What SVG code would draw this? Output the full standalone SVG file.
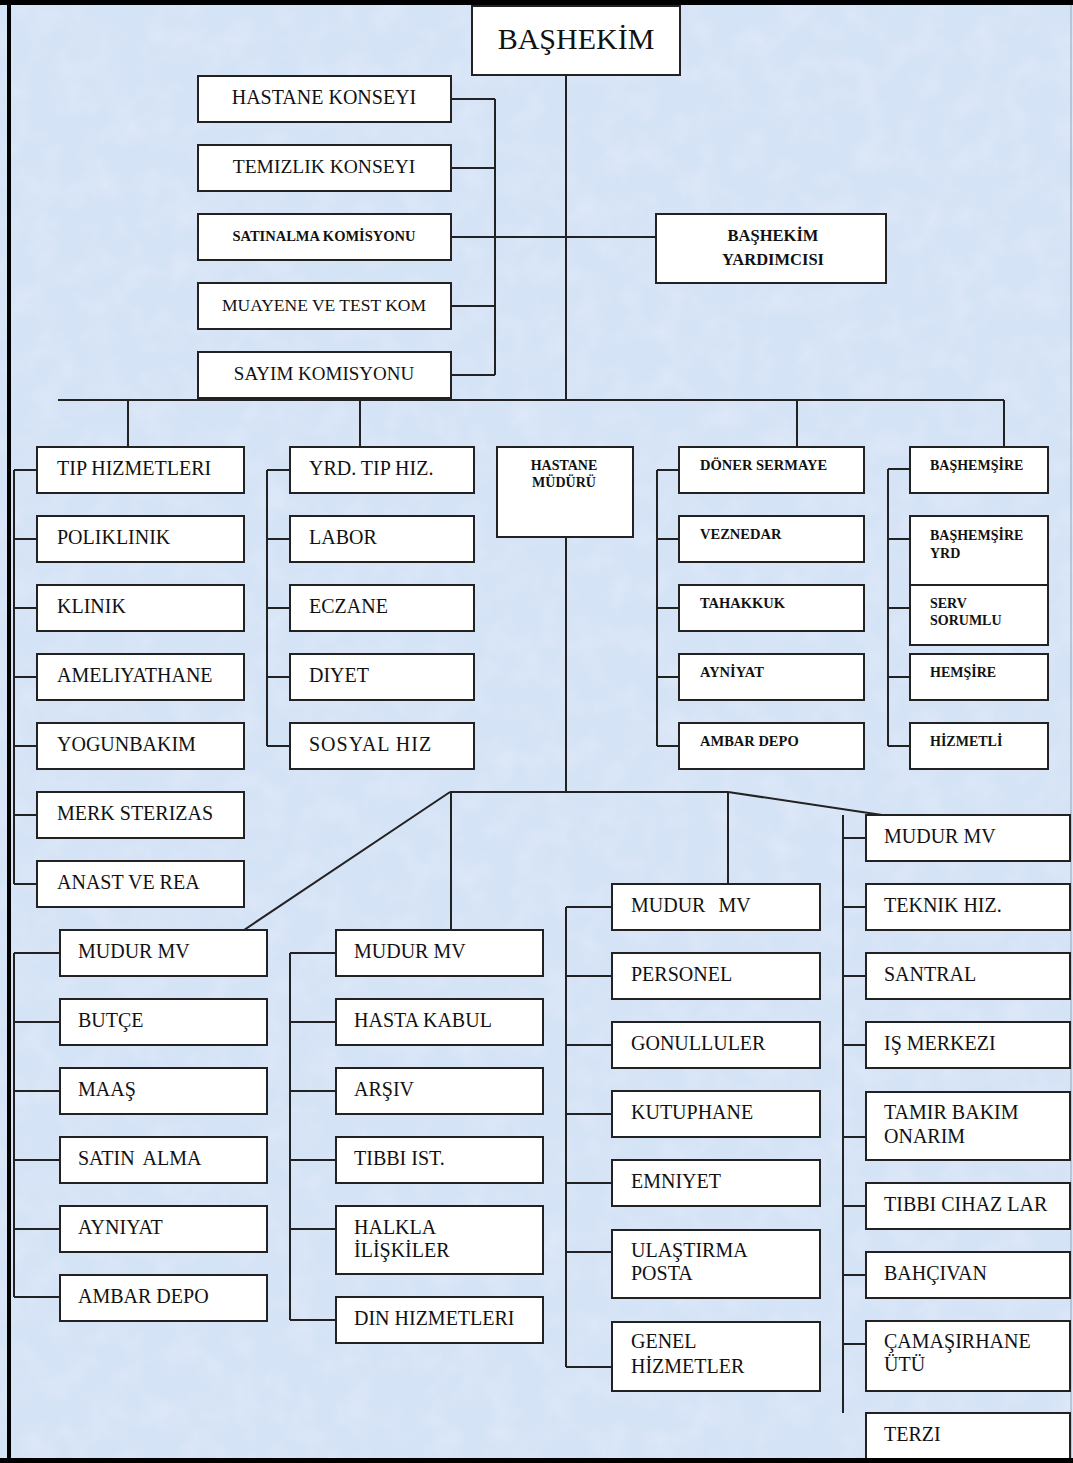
<svg xmlns="http://www.w3.org/2000/svg" width="1073" height="1463" viewBox="0 0 1073 1463">
<defs>
<filter id="tex" x="0" y="0" width="100%" height="100%">
<feTurbulence type="fractalNoise" baseFrequency="0.035" numOctaves="3" seed="7"/>
<feColorMatrix type="matrix" values="0 0 0 0 1  0 0 0 0 1  0 0 0 0 1  0 0 0 1.1 -0.45"/>
</filter>
<style>
.bx{fill:#fff;stroke:#222;stroke-width:2}
.ln{stroke:#222;stroke-width:2;fill:none}
.t{font-family:"Liberation Serif","DejaVu Serif",serif;font-size:20px;fill:#111}
.c{text-anchor:middle}
.s{font-family:"Liberation Serif","DejaVu Serif",serif;font-size:14px;font-weight:bold;fill:#111}
.d{font-size:14.5px}
</style>
</defs>
<rect x="0" y="0" width="1073" height="1463" fill="#d5e3f6"/>
<rect x="0" y="0" width="1073" height="1463" filter="url(#tex)" opacity="0.35"/>
<g id="frame">
<rect x="0" y="0" width="1073" height="5" fill="#000"/>
<rect x="7" y="0" width="4" height="1463" fill="#000"/>
<line x1="1071" y1="5" x2="1071" y2="1458" stroke="#9aa6b8" stroke-width="1"/>
</g>

<g id="connectors" class="ln">
<path d="M566 75V400"/>
<path d="M495 99V375M451 99H495M451 168H495M451 237H656M451 306H495M451 375H495"/>
<path d="M58 400H1004M128 400V447M360 400V447M797 400V447M1004 400V447"/>
<path d="M14 470V884M14 470H37M14 539H37M14 608H37M14 677H37M14 746H37M14 815H37M14 884H37"/>
<path d="M267 470V746M267 470H290M267 539H290M267 608H290M267 677H290M267 746H290"/>
<path d="M657 470V746M657 470H679M657 539H679M657 608H679M657 677H679M657 746H679"/>
<path d="M888 469V746M888 469H910M888 539H910M888 608H910M888 677H910M888 746H910"/>
<path d="M566 537V792M450 792H728M450 792L244 930M451 792V930M728 792V884M728 792L882 815"/>
<path d="M14 953V1297M14 953H60M14 1022H60M14 1091H60M14 1160H60M14 1229H60M14 1297H60"/>
<path d="M290 953V1320M290 953H336M290 1022H336M290 1091H336M290 1160H336M290 1229H336M290 1320H336"/>
<path d="M566 907V1367M566 907H612M566 976H612M566 1045H612M566 1114H612M566 1183H612M566 1252H612M566 1367H612"/>
<path d="M843 815V1413M843 838H866M843 907H866M843 976H866M843 1045H866M843 1137H866M843 1206H866M843 1275H866M843 1344H866"/>
</g>

<g id="n-bashekim"><rect class="bx" x="472" y="6" width="208" height="69"/><text class="t c" x="576" y="49" style="font-size:30px">BAŞHEKİM</text></g>
<g id="n-hastane-konseyi"><rect class="bx" x="198" y="76" width="253" height="46"/><text class="t c" x="324" y="104">HASTANE KONSEYI</text></g>
<g id="n-temizlik-konseyi"><rect class="bx" x="198" y="145" width="253" height="46"/><text class="t c" x="324" y="173" style="font-size:19.5px">TEMIZLIK KONSEYI</text></g>
<g id="n-satinalma"><rect class="bx" x="198" y="214" width="253" height="46"/><text class="s c" x="324" y="241" style="font-size:14.5px">SATINALMA KOMİSYONU</text></g>
<g id="n-muayene"><rect class="bx" x="198" y="283" width="253" height="46"/><text class="t c" x="324" y="311" style="font-size:17.5px">MUAYENE VE TEST KOM</text></g>
<g id="n-sayim"><rect class="bx" x="198" y="352" width="253" height="46"/><text class="t c" x="324" y="380" style="font-size:19px">SAYIM KOMISYONU</text></g>
<g id="n-bashekim-yrd"><rect class="bx" x="656" y="214" width="230" height="69"/><text class="s c" x="773" y="241" style="font-size:16.5px">BAŞHEKİM</text><text class="s c" x="773" y="265" style="font-size:16.5px">YARDIMCISI</text></g>

<g id="n-tip-hizmetleri"><rect class="bx" x="37" y="447" width="207" height="46"/><text class="t" x="57" y="475">TIP HIZMETLERI</text></g>
<g id="n-poliklinik"><rect class="bx" x="37" y="516" width="207" height="46"/><text class="t" x="57" y="544">POLIKLINIK</text></g>
<g id="n-klinik"><rect class="bx" x="37" y="585" width="207" height="46"/><text class="t" x="57" y="613">KLINIK</text></g>
<g id="n-ameliyathane"><rect class="bx" x="37" y="654" width="207" height="46"/><text class="t" x="57" y="682">AMELIYATHANE</text></g>
<g id="n-yogunbakim"><rect class="bx" x="37" y="723" width="207" height="46"/><text class="t" x="57" y="751">YOGUNBAKIM</text></g>
<g id="n-merk"><rect class="bx" x="37" y="792" width="207" height="46"/><text class="t" x="57" y="820">MERK STERIZAS</text></g>
<g id="n-anast"><rect class="bx" x="37" y="861" width="207" height="46"/><text class="t" x="57" y="889">ANAST VE REA</text></g>

<g id="n-yrd-tip"><rect class="bx" x="290" y="447" width="184" height="46"/><text class="t" x="309" y="475">YRD. TIP HIZ.</text></g>
<g id="n-labor"><rect class="bx" x="290" y="516" width="184" height="46"/><text class="t" x="309" y="544">LABOR</text></g>
<g id="n-eczane"><rect class="bx" x="290" y="585" width="184" height="46"/><text class="t" x="309" y="613">ECZANE</text></g>
<g id="n-diyet"><rect class="bx" x="290" y="654" width="184" height="46"/><text class="t" x="309" y="682">DIYET</text></g>
<g id="n-sosyal"><rect class="bx" x="290" y="723" width="184" height="46"/><text class="t" x="309" y="751" style="letter-spacing:1px">SOSYAL HIZ</text></g>

<g id="n-hastane-muduru"><rect class="bx" x="497" y="447" width="136" height="90"/><text class="s c" x="564" y="470">HASTANE</text><text class="s c" x="564" y="487">MÜDÜRÜ</text></g>

<g id="n-doner"><rect class="bx" x="679" y="447" width="185" height="46"/><text class="s d" x="700" y="470">DÖNER SERMAYE</text></g>
<g id="n-veznedar"><rect class="bx" x="679" y="516" width="185" height="46"/><text class="s d" x="700" y="539">VEZNEDAR</text></g>
<g id="n-tahakkuk"><rect class="bx" x="679" y="585" width="185" height="46"/><text class="s d" x="700" y="608">TAHAKKUK</text></g>
<g id="n-ayniyat1"><rect class="bx" x="679" y="654" width="185" height="46"/><text class="s d" x="700" y="677">AYNİYAT</text></g>
<g id="n-ambar1"><rect class="bx" x="679" y="723" width="185" height="46"/><text class="s d" x="700" y="746">AMBAR DEPO</text></g>

<g id="n-bashemsire"><rect class="bx" x="910" y="447" width="138" height="46"/><text class="s" x="930" y="470">BAŞHEMŞİRE</text></g>
<g id="n-bashemsire-yrd"><rect class="bx" x="910" y="516" width="138" height="69"/><text class="s" x="930" y="540">BAŞHEMŞİRE</text><text class="s" x="930" y="558">YRD</text></g>
<g id="n-serv"><rect class="bx" x="910" y="585" width="138" height="60"/><text class="s" x="930" y="608">SERV</text><text class="s" x="930" y="625">SORUMLU</text></g>
<g id="n-hemsire"><rect class="bx" x="910" y="654" width="138" height="46"/><text class="s" x="930" y="677">HEMŞİRE</text></g>
<g id="n-hizmetli"><rect class="bx" x="910" y="723" width="138" height="46"/><text class="s" x="930" y="746">HİZMETLİ</text></g>

<g id="n-mudur1"><rect class="bx" x="60" y="930" width="207" height="46"/><text class="t" x="78" y="958">MUDUR MV</text></g>
<g id="n-butce"><rect class="bx" x="60" y="999" width="207" height="46"/><text class="t" x="78" y="1027">BUTÇE</text></g>
<g id="n-maas"><rect class="bx" x="60" y="1068" width="207" height="46"/><text class="t" x="78" y="1096">MAAŞ</text></g>
<g id="n-satin-alma"><rect class="bx" x="60" y="1137" width="207" height="46"/><text class="t" x="78" y="1165" style="word-spacing:4px">SATIN ALMA</text></g>
<g id="n-ayniyat2"><rect class="bx" x="60" y="1206" width="207" height="46"/><text class="t" x="78" y="1234">AYNIYAT</text></g>
<g id="n-ambar2"><rect class="bx" x="60" y="1275" width="207" height="46"/><text class="t" x="78" y="1303">AMBAR DEPO</text></g>

<g id="n-mudur2"><rect class="bx" x="336" y="930" width="207" height="46"/><text class="t" x="354" y="958">MUDUR MV</text></g>
<g id="n-hasta-kabul"><rect class="bx" x="336" y="999" width="207" height="46"/><text class="t" x="354" y="1027">HASTA KABUL</text></g>
<g id="n-arsiv"><rect class="bx" x="336" y="1068" width="207" height="46"/><text class="t" x="354" y="1096">ARŞIV</text></g>
<g id="n-tibbi-ist"><rect class="bx" x="336" y="1137" width="207" height="46"/><text class="t" x="354" y="1165">TIBBI IST.</text></g>
<g id="n-halkla"><rect class="bx" x="336" y="1206" width="207" height="68"/><text class="t" x="354" y="1234">HALKLA</text><text class="t" x="354" y="1257">İLİŞKİLER</text></g>
<g id="n-din"><rect class="bx" x="336" y="1297" width="207" height="46"/><text class="t" x="354" y="1325">DIN HIZMETLERI</text></g>

<g id="n-mudur3"><rect class="bx" x="612" y="884" width="208" height="46"/><text class="t" x="631" y="912" style="word-spacing:8px">MUDUR MV</text></g>
<g id="n-personel"><rect class="bx" x="612" y="953" width="208" height="46"/><text class="t" x="631" y="981">PERSONEL</text></g>
<g id="n-gonulluler"><rect class="bx" x="612" y="1022" width="208" height="46"/><text class="t" x="631" y="1050">GONULLULER</text></g>
<g id="n-kutuphane"><rect class="bx" x="612" y="1091" width="208" height="46"/><text class="t" x="631" y="1119">KUTUPHANE</text></g>
<g id="n-emniyet"><rect class="bx" x="612" y="1160" width="208" height="46"/><text class="t" x="631" y="1188">EMNIYET</text></g>
<g id="n-ulastirma"><rect class="bx" x="612" y="1230" width="208" height="68"/><text class="t" x="631" y="1257">ULAŞTIRMA</text><text class="t" x="631" y="1280">POSTA</text></g>
<g id="n-genel"><rect class="bx" x="612" y="1322" width="208" height="69"/><text class="t" x="631" y="1348">GENEL</text><text class="t" x="631" y="1373">HİZMETLER</text></g>

<g id="n-mudur4"><rect class="bx" x="866" y="815" width="204" height="46"/><text class="t" x="884" y="843">MUDUR MV</text></g>
<g id="n-teknik"><rect class="bx" x="866" y="884" width="204" height="46"/><text class="t" x="884" y="912">TEKNIK HIZ.</text></g>
<g id="n-santral"><rect class="bx" x="866" y="953" width="204" height="46"/><text class="t" x="884" y="981">SANTRAL</text></g>
<g id="n-is-merkezi"><rect class="bx" x="866" y="1022" width="204" height="46"/><text class="t" x="884" y="1050">IŞ MERKEZI</text></g>
<g id="n-tamir"><rect class="bx" x="866" y="1092" width="204" height="68"/><text class="t" x="884" y="1119">TAMIR BAKIM</text><text class="t" x="884" y="1143">ONARIM</text></g>
<g id="n-tibbi-cihaz"><rect class="bx" x="866" y="1183" width="204" height="46"/><text class="t" x="884" y="1211">TIBBI CIHAZ LAR</text></g>
<g id="n-bahcivan"><rect class="bx" x="866" y="1252" width="204" height="46"/><text class="t" x="884" y="1280">BAHÇIVAN</text></g>
<g id="n-camasirhane"><rect class="bx" x="866" y="1321" width="204" height="70"/><text class="t" x="884" y="1348">ÇAMAŞIRHANE</text><text class="t" x="884" y="1371">ÜTÜ</text></g>
<g id="n-terzi"><rect class="bx" x="866" y="1413" width="204" height="46"/><text class="t" x="884" y="1441">TERZI</text></g>
<rect id="frame-bottom" x="0" y="1458" width="1073" height="5" fill="#000"/>
</svg>
